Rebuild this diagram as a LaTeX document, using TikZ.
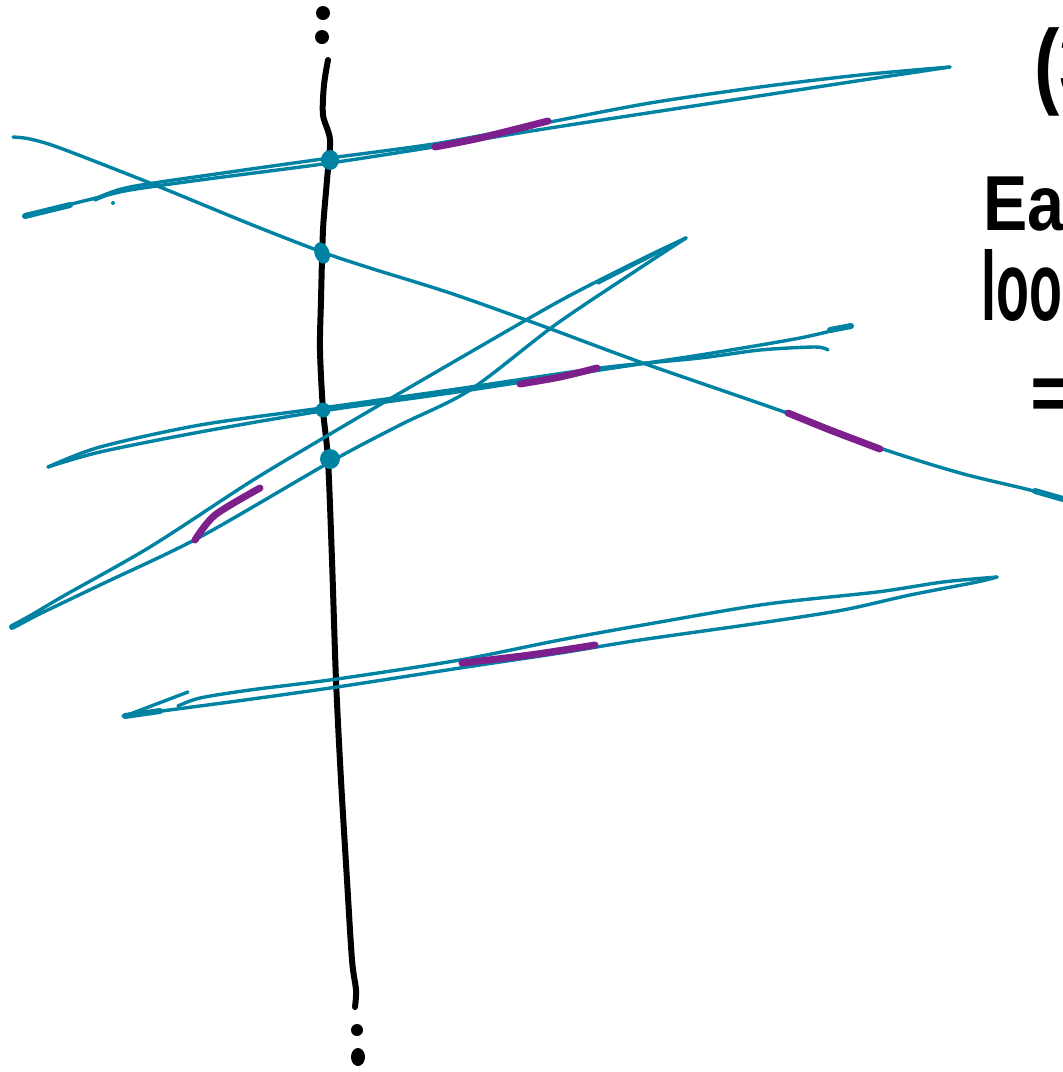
\documentclass[tikz,border=0pt]{standalone}
\usepackage{fontspec}
\setsansfont{Liberation Sans}
\usetikzlibrary{positioning}
\definecolor{azulado}{HTML}{0083A3}
\definecolor{morado}{HTML}{7D1F8C}
\definecolor{tinta}{HTML}{000000}

\begin{document}
\begin{tikzpicture}[x=1pt, y=-1pt,
			recta/.style={azulado, line width=3.4pt, line cap=round, line join=round},
			gruesa/.style={azulado, line width=6pt, line cap=round},
			tramo/.style={morado, line width=7pt, line cap=round},
			eje/.style={tinta, line width=6pt, line cap=round},
			punto/.style={fill=azulado},
			mano/.style={inner sep=0pt, anchor=base west}]
			\useasboundingbox (0,0) rectangle (1063,1072);
			\clip (0,0) rectangle (1063,1072);
			% eje vertical
			\draw[eje] plot[smooth, tension=0.5] coordinates {(328,60) (324,85) (323,115) (330,140) (327,180)
				(323,230) (321,300) (320,350) (323,410) (328,460) (332,560) (336,680) (341,780)
				(347,880) (352,960) (356,990) (355,1007)};
			\fill[tinta] (323,13) circle (7);
			\fill[tinta] (322,37) circle (7);
			\fill[tinta] (357,1030) circle (6);
			\fill[tinta] (358,1057) ellipse (7 and 9);
			% recta A
			\draw[recta] plot[smooth] coordinates {(25,217) (60,207) (100,197) (130,190) (200,180) (330,163)
				(440,146) (550,128) (700,105) (850,82) (950,67)};
			\draw[recta] plot[smooth] coordinates {(950,67) (860,75) (760,87) (650,103) (550,122) (440,143)
				(330,158) (230,172) (130,187) (95,199)};
			\draw[gruesa] (25,216) -- (70,205);
			\draw[recta] (95,200) -- (118,190) -- (130,189);
			\fill[azulado] (113,203) circle (2);
			\fill[punto] (330,160) ellipse (9 and 10);
			\draw[tramo] plot[smooth] coordinates {(435,147) (480,138) (548,121)};
			% recta B
			\draw[recta] plot[smooth] coordinates {(13,137) (30,139) (60,148) (150,183) (250,224) (322,252)
				(370,268) (450,293) (540,325) (640,362) (790,414) (880,448) (960,473) (1030,490) (1063,500)};
			\draw[gruesa] (1035,491) -- (1063,499);
			\fill[punto, rotate around={20:(322,253)}] (322,253) ellipse (7.5 and 11);
			\draw[tramo] plot[smooth] coordinates {(788,413) (830,430) (880,449)};
			% recta C
			\draw[recta] plot[smooth] coordinates {(48,467) (100,452) (200,432) (322,411) (450,393) (600,370)
				(700,355) (800,338) (850,326)};
			\draw[recta] plot[smooth] coordinates {(828,350) (815,347) (760,350) (700,358) (600,368)
				(450,390) (322,408) (200,425) (100,447) (48,467)};
			\draw[gruesa] (830,330) -- (851,326);
			\fill[punto] (323,410) ellipse (7.5 and 7.5);
			\draw[tramo] plot[smooth] coordinates {(520,384) (560,377) (597,368)};
			% recta D
			\draw[recta] plot[smooth] coordinates {(686,238) (640,268) (555,325) (470,390) (400,425)
				(330,462) (200,537) (100,585) (12,627)};
			\draw[recta] plot[smooth] coordinates {(686,238) (650,255) (590,285) (540,312) (400,393)
				(320,440) (250,482) (150,547) (60,598) (12,627)};
			\draw[recta] (686,238) -- (598,283);
			\draw[gruesa] (12,627) -- (40,612);
			\fill[punto] (330,459) ellipse (10 and 10);
			\draw[tramo] plot[smooth] coordinates {(195,540) (215,515) (260,488)};
			% recta E
			\draw[recta] plot[smooth] coordinates {(123,716) (230,702) (337,687) (460,668) (560,653)
				(640,640) (760,623) (843,610) (910,595) (977,582) (997,577)};
			\draw[recta] plot[smooth] coordinates {(997,577) (943,582) (877,592) (767,604) (660,622)
				(560,640) (460,660) (337,679) (250,690) (200,698) (178,706)};
			\draw[recta] (125,716) -- (188,692);
			\draw[gruesa] (125,716) -- (160,711);
			\draw[tramo] plot[smooth] coordinates {(462,663) (530,655) (595,645)};
			% texto
			\node[mano, font=\fontsize{95}{95}\selectfont\sffamily\bfseries] (parentesis) at (1034,96)
				{\scalebox{0.8}[1]{(3}};
			\node[mano, font=\fontsize{78}{80}\selectfont\sffamily\bfseries] (ea) at (983,230)
				{\scalebox{0.85}[1]{Ea}};
			\node[mano, font=\fontsize{98}{100}\selectfont\sffamily\bfseries] (look) at (981,320)
				{\scalebox{0.55}[1]{look}};
			\node[mano, font=\fontsize{80}{80}\selectfont\sffamily\bfseries] (igual) at (1030,420)
				{=};
		\end{tikzpicture}
\end{document}
